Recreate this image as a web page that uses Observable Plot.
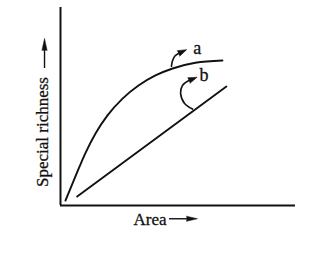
<!DOCTYPE html>
<html>
<head>
<meta charset="utf-8">
<script src="https://cdn.jsdelivr.net/npm/d3@7"></script>
<script src="https://cdn.jsdelivr.net/npm/@observablehq/plot@0.6"></script>
<style>
  html, body { margin: 0; padding: 0; background: #fff; }
  #chart svg { display: block; }
</style>
</head>
<body>
<div id="chart"></div>
<script>
// Curve a (species-area curve) in data units (area, richness)
const curveAX = [2.1, 6.4, 10.6, 14.9, 20.0, 26.4, 33.2, 40.4, 47.7, 57.4, 68.9];
const curveAY = [2.5, 14.8, 26.5, 36.4, 45.5, 54.0, 60.6, 65.7, 69.2, 72.1, 73.2];
// Line b (straight line)
const lineBX = [7.1, 70.6];
const lineBY = [4.5, 60.1];
// Curved annotation arrow shafts (data units)
const shaftAX = [47.2, 47.7, 48.7, 50.2];
const shaftAY = [70.3, 73.2, 75.5, 76.8];
const shaftBX = [56.2, 52.8, 51.1, 51.9, 54.6];
const shaftBY = [48.7, 51.5, 56.6, 60.6, 63.1];
// Arrow heads: base position and direction (degrees, 0 = up)
const headX = [50.2, 54.6];
const headY = [76.8, 63.1];
const headAngle = [65, 68];
// Labels
const labelNames = ["a", "b"];
const labelX = [56.5, 59.2];
const labelY = [79.5, 65.9];
const xTitle = "Area";
const yTitle = "Special richness";

const curveA = curveAX.map((x, i) => ({x, y: curveAY[i]}));
const lineB = lineBX.map((x, i) => ({x, y: lineBY[i]}));
const shaftA = shaftAX.map((x, i) => ({x, y: shaftAY[i]}));
const shaftB = shaftBX.map((x, i) => ({x, y: shaftBY[i]}));
const heads = headX.map((x, i) => ({x, y: headY[i], a: headAngle[i]}));
const labels = labelNames.map((t, i) => ({t, x: labelX[i], y: labelY[i]}));

const font = "'Liberation Serif', 'Times New Roman', serif";
const ink = "#111";

const plot = Plot.plot({
  width: 328,
  height: 259,
  marginLeft: 60,
  marginRight: 33,
  marginTop: 7,
  marginBottom: 54,
  style: {background: "#fff", fontFamily: font, color: ink},
  x: {domain: [0, 100], axis: null},
  y: {domain: [0, 100], axis: null},
  marks: [
    Plot.ruleX([0], {y1: 0, y2: 100, stroke: ink, strokeWidth: 2}),
    Plot.ruleY([0], {x1: 0, x2: 100, stroke: ink, strokeWidth: 2}),
    Plot.line(curveA, {x: "x", y: "y", curve: "monotone-x", stroke: ink, strokeWidth: 1.9}),
    Plot.line(lineB, {x: "x", y: "y", stroke: ink, strokeWidth: 1.9}),
    Plot.line(shaftA, {x: "x", y: "y", curve: "catmull-rom", stroke: ink, strokeWidth: 1.6}),
    Plot.line(shaftB, {x: "x", y: "y", curve: "catmull-rom", stroke: ink, strokeWidth: 1.6}),
    Plot.vector(heads, {x: "x", y: "y", rotate: "a", length: 9, shape: "spike", anchor: "start", r: 3, fill: ink, stroke: ink, strokeWidth: 0.5}),
    Plot.text(labels, {x: "x", y: "y", text: "t", fontSize: 18, textAnchor: "start", fill: ink, stroke: ink, strokeWidth: 0.3}),
    // axis titles with arrows
    Plot.text([xTitle], {x: 31.1, y: -6.9, text: d => d, fontSize: 17, textAnchor: "start", fill: ink, stroke: ink, strokeWidth: 0.3}),
    Plot.ruleY([-6.7], {x1: 46.4, x2: 54.0, stroke: ink, strokeWidth: 1.4}),
    Plot.vector([{x: 53.6, y: -6.7}], {x: "x", y: "y", rotate: 90, length: 11, shape: "spike", anchor: "start", r: 2.6, fill: ink, stroke: ink, strokeWidth: 0.5}),
    Plot.text([yTitle], {x: -7.7, y: 37.1, text: d => d, fontSize: 17, rotate: -90, textAnchor: "middle", fill: ink, stroke: ink, strokeWidth: 0.3}),
    Plot.ruleX([-6.8], {y1: 69.2, y2: 78.8, stroke: ink, strokeWidth: 1.4}),
    Plot.vector([{x: -6.8, y: 78.3}], {x: "x", y: "y", rotate: 0, length: 12, shape: "spike", anchor: "start", r: 2.6, fill: ink, stroke: ink, strokeWidth: 0.5})
  ]
});
document.getElementById("chart").appendChild(plot);
</script>
</body>
</html>
